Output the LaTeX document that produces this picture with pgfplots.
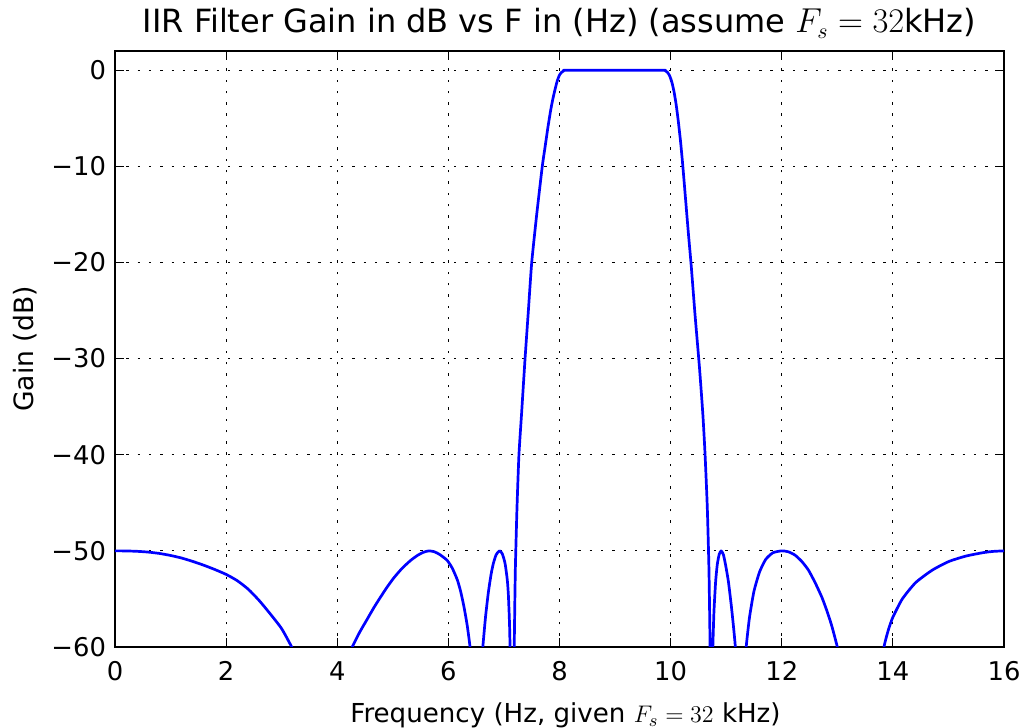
\documentclass[border=0pt]{standalone}
\usepackage{fontspec}
\setmainfont{DejaVu Sans}
\usepackage{pgfplots}
\pgfplotsset{compat=1.18}

\pgfplotstableread{
f     g
0     -50
0.2   -50.01
0.4   -50.05
0.6   -50.13
0.8   -50.27
1.0   -50.48
1.2   -50.75
1.4   -51.1
1.6   -51.5
1.8   -51.95
2.0   -52.45
2.2   -53.1
2.4   -54.0
2.6   -55.2
2.8   -56.6
3.0   -58.1
3.18  -60
3.3   -61.5
4.15  -61.5
4.27  -60
4.4   -58.5
4.54  -57.1
4.66  -55.9
4.78  -54.8
4.9   -53.75
5.02  -52.8
5.17  -51.8
5.32  -51.0
5.45  -50.45
5.55  -50.15
5.65  -50
5.75  -50.1
5.85  -50.4
5.98  -51.0
6.07  -51.8
6.16  -53.0
6.22  -54.2
6.28  -55.8
6.34  -57.8
6.39  -60
6.42  -62
6.58  -63
6.62  -60
6.67  -56.8
6.72  -54.3
6.77  -52.4
6.81  -51.3
6.86  -50.4
6.92  -50
6.97  -50.3
7.02  -51.3
7.06  -53.0
7.08  -54.6
7.10  -57.5
7.11  -60
7.12  -63
7.17  -66
7.185 -60
7.205 -52
7.235 -45.5
7.27  -40
7.32  -35.5
7.38  -30
7.44  -25
7.50  -20
7.59  -15
7.69  -10
7.74  -8
7.79  -6
7.84  -4.2
7.88  -3.0
7.92  -2.0
7.96  -1.1
8.00  -0.5
8.04  -0.2
8.08  -0.05
8.12  0
9.00  0
9.86  0
9.90  -0.05
9.94  -0.2
9.98  -0.55
10.02 -1.2
10.06 -2.2
10.10 -3.6
10.14 -5.4
10.18 -7.5
10.22 -10
10.27 -13.5
10.32 -17
10.37 -20.3
10.44 -25.5
10.52 -31
10.58 -35.8
10.62 -40
10.66 -45.5
10.69 -52
10.71 -60
10.715 -66
10.75 -64
10.76 -60
10.78 -56.3
10.81 -53.2
10.84 -51.4
10.875 -50.35
10.91 -50
10.95 -50.4
10.99 -51.5
11.04 -53.2
11.09 -55.6
11.13 -57.8
11.165 -60
11.18 -62
11.33 -63
11.36 -60
11.42 -56.9
11.50 -54.2
11.60 -52.2
11.71 -50.9
11.84 -50.2
12.0  -50
12.12 -50.1
12.24 -50.45
12.36 -51.1
12.48 -52.0
12.60 -53.3
12.72 -54.8
12.81 -56.2
12.90 -57.8
13.0  -60
13.05 -61.5
13.78 -63
13.84 -60
13.92 -58.2
14.0  -56.9
14.17 -55.0
14.41 -53.3
14.71 -52.0
15.01 -51.1
15.31 -50.55
15.61 -50.2
15.8  -50.06
16    -50
}\gain

\begin{document}
\begin{tikzpicture}
\begin{axis}[
    name=ax,
    scale only axis,
    width=444.5pt, height=298pt,
    xmin=0, xmax=16, ymin=-60, ymax=2,
    xtick={0,2,...,16},
    xticklabels={0,2,4,6,8,10,12,14,16},
    ytick={-60,-50,...,0},
    yticklabels={−60,−50,−40,−30,−20,−10,0},
    tick align=inside,
    xtick pos=both, ytick pos=both,
    major tick length=4.5pt,
    tick style={black, line width=0.5pt},
    axis line style={black, line width=1.1pt},
    grid=major,
    major grid style={black, line width=0.5pt, dash pattern=on 1.2pt off 4.45pt},
    ticklabel style={font=\fontsize{12.9}{15}\selectfont},
    xticklabel style={anchor=base, yshift=-17pt},
    yticklabel style={xshift=-1pt},
]
\addplot[blue, line width=1.35pt, line join=round, smooth, tension=0.35] table[x=f, y=g] {\gain};
\end{axis}
\node[anchor=base, font=\fontsize{16}{19}\selectfont] at ([yshift=9pt]ax.north) {IIR Filter Gain in dB vs F in (Hz) (assume $F_s=32$kHz)};
\node[anchor=base, font=\fontsize{13.05}{16}\selectfont] at ([xshift=3pt, yshift=-38pt]ax.south) {Frequency (Hz, given $F_s = 32$ kHz)};
\node[rotate=90, anchor=base, font=\fontsize{13.3}{16}\selectfont] at ([xshift=-40.5pt]ax.west) {Gain (dB)};
\pgfresetboundingbox
\path ([shift={(-57.5pt,-40.5pt)}]ax.south west) rectangle ([shift={(12pt,25.5pt)}]ax.north east);
\end{tikzpicture}
\end{document}
